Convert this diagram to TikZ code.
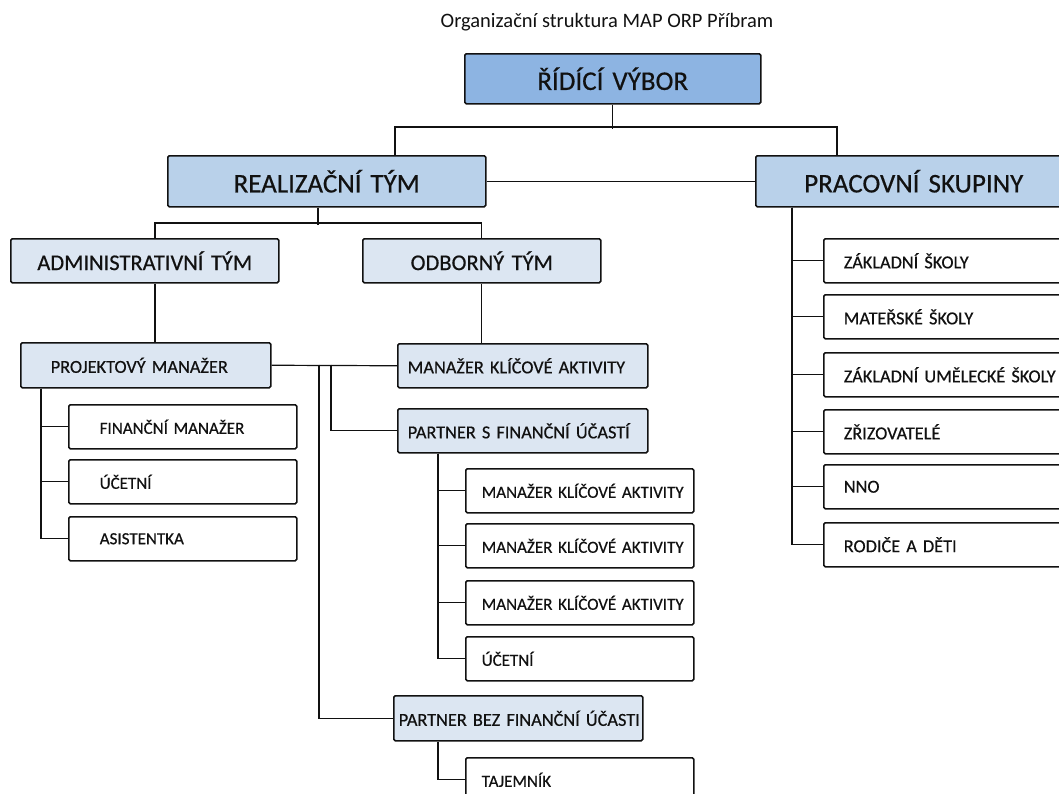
\documentclass[tikz,border=0pt]{standalone}
\usepackage{fontspec}
\setmainfont{Carlito}[FakeBold=0.5, WordSpace=0.8]
\newfontfamily\titlefont{Carlito}
\definecolor{midblue}{HTML}{8DB4E2}
\definecolor{darkpale}{HTML}{B9D1EA}
\definecolor{pale}{HTML}{DCE6F2}
\definecolor{ink}{HTML}{111111}
\tikzset{
  box/.style={draw=ink, line width=1.5pt, rounded corners=1.5pt, anchor=north west, inner ysep=0pt, text=ink},
  ctr/.style={align=center},
  lft/.style 2 args={text width=#1, inner xsep=0pt, align=left, execute at begin node={\hspace*{#2}}},
  fbig/.style={font=\fontsize{27}{30}\selectfont},
  fmid/.style={font=\fontsize{22.5}{25}\selectfont},
  fsm/.style={font=\fontsize{18.3}{21}\selectfont},
  fxs/.style={font=\fontsize{17}{20}\selectfont},
  conn/.style={draw=ink, line width=1.2pt},
}
\begin{document}
\begin{tikzpicture}[x=1pt,y=-1pt]
\useasboundingbox (0,0) rectangle (1059,793);
\fill[white] (0,0) rectangle (1059,793);
% title
\node[text=ink, font=\titlefont\fontsize{20.5}{24}\selectfont] (title) at (607,22) {Organizační struktura MAP ORP Příbram};
% top levels
\node[box, fbig, fill=midblue, minimum width=296pt, minimum height=50pt, text width=280pt, ctr] (rv) at (464,53) {ŘÍDÍCÍ VÝBOR};
\node[box, fbig, fill=darkpale, minimum width=318pt, minimum height=51pt, text width=300pt, ctr] (rt) at (167,155) {REALIZAČNÍ TÝM};
\node[box, fbig, fill=darkpale, minimum width=316pt, minimum height=51pt, text width=300pt, ctr] (ps) at (755,155) {PRACOVNÍ SKUPINY};
\node[box, fmid, fill=pale, minimum width=268pt, minimum height=44pt, text width=252pt, ctr] (at) at (10,238) {ADMINISTRATIVNÍ TÝM};
\node[box, fmid, fill=pale, minimum width=238pt, minimum height=44pt, text width=222pt, ctr] (ot) at (362,238) {ODBORNÝ TÝM};
% light blue left-aligned
\node[box, fsm, fill=pale, minimum height=45pt, lft={250pt}{30pt}] (pm) at (20,342) {PROJEKTOVÝ MANAŽER};
\node[box, fsm, fill=pale, minimum height=44pt, lft={250pt}{10pt}] (mka) at (397,343) {MANAŽER KLÍČOVÉ AKTIVITY};
\node[box, fsm, fill=pale, minimum height=44pt, lft={250pt}{10pt}] (psf) at (397,408) {PARTNER S FINANČNÍ ÚČASTÍ};
\node[box, fsm, fill=pale, minimum height=45pt, lft={249pt}{5pt}] (pbf) at (393,695) {PARTNER BEZ FINANČNÍ ÚČASTI};
% white boxes under PM
\node[box, fxs, fill=white, minimum height=44pt, lft={228pt}{31pt}] (fm) at (68,404) {FINANČNÍ MANAŽER};
\node[box, fxs, fill=white, minimum height=44pt, lft={228pt}{31pt}] (uc1) at (68,459) {ÚČETNÍ};
\node[box, fxs, fill=white, minimum height=44pt, lft={228pt}{31pt}] (as) at (68,516) {ASISTENTKA};
% white boxes under PSF
\node[box, fxs, fill=white, minimum height=44pt, lft={228pt}{16pt}] (mk1) at (465,468) {MANAŽER KLÍČOVÉ AKTIVITY};
\node[box, fxs, fill=white, minimum height=44pt, lft={228pt}{16pt}] (mk2) at (465,523) {MANAŽER KLÍČOVÉ AKTIVITY};
\node[box, fxs, fill=white, minimum height=44pt, lft={228pt}{16pt}] (mk3) at (465,580) {MANAŽER KLÍČOVÉ AKTIVITY};
\node[box, fxs, fill=white, minimum height=44pt, lft={228pt}{16pt}] (uc2) at (465,636) {ÚČETNÍ};
\node[box, fxs, fill=white, minimum height=44pt, lft={228pt}{16pt}] (taj) at (465,757) {TAJEMNÍK};
% PS children
\node[box, fsm, fill=white, minimum height=44pt, lft={250pt}{20pt}] (zs) at (823,238) {ZÁKLADNÍ ŠKOLY};
\node[box, fsm, fill=white, minimum height=44pt, lft={250pt}{20pt}] (ms) at (823,294) {MATEŘSKÉ ŠKOLY};
\node[box, fsm, fill=white, minimum height=44pt, lft={250pt}{20pt}] (zus) at (823,352) {ZÁKLADNÍ UMĚLECKÉ ŠKOLY};
\node[box, fsm, fill=white, minimum height=44pt, lft={250pt}{20pt}] (zr) at (823,409) {ZŘIZOVATELÉ};
\node[box, fsm, fill=white, minimum height=44pt, lft={250pt}{20pt}] (nno) at (823,464) {NNO};
\node[box, fsm, fill=white, minimum height=44pt, lft={250pt}{20pt}] (rad) at (823,522) {RODIČE A DĚTI};
% connectors
\draw[conn] (rv.south) -- ++(0,24);
\draw[conn] ([xshift=228pt]rt.north west) -- ++(0,-28) -| ([xshift=82pt]ps.north west);
\draw[conn] (rt.east) -- (ps.west);
\draw[conn] ([xshift=151pt]rt.south west) -- ++(0,17);
\draw[conn] ([xshift=145pt]at.north west) -- ++(0,-15) -| (ot.north);
\draw[conn] ([xshift=145pt]at.south west) -- ([xshift=135pt]pm.north west);
\draw[conn] (ot.south) -- (ot.south |- mka.north);
\draw[conn] (pm.east) -- (mka.west);
\coordinate (b1) at (331,364.5);
\coordinate (b2) at (319,364.5);
\draw[conn] (b1) |- (psf.west);
\draw[conn] (b2) |- (pbf.west);
\coordinate (pmx) at ([xshift=21pt]pm.south west);
\draw[conn] (pmx) |- (fm.west);
\draw[conn] (pmx) |- (uc1.west);
\draw[conn] (pmx) |- (as.west);
\coordinate (psfx) at ([xshift=41pt]psf.south west);
\draw[conn] (psfx) |- (mk1.west);
\draw[conn] (psfx) |- (mk2.west);
\draw[conn] (psfx) |- (mk3.west);
\draw[conn] (psfx) |- (uc2.west);
\draw[conn] ([xshift=45pt]pbf.south west) |- (taj.west);
\coordinate (psx) at ([xshift=37pt]ps.south west);
\draw[conn] (psx) |- (zs.west);
\draw[conn] (psx) |- (ms.west);
\draw[conn] (psx) |- (zus.west);
\draw[conn] (psx) |- (zr.west);
\draw[conn] (psx) |- (nno.west);
\draw[conn] (psx) |- (rad.west);
\end{tikzpicture}
\end{document}
